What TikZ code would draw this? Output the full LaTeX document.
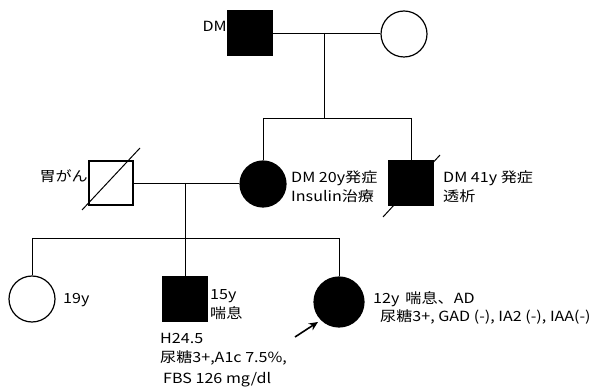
\documentclass[tikz,border=0pt]{standalone}
\usepackage{fontspec}
\setmainfont[FakeStretch=1.15]{Noto Sans CJK JP}
\usetikzlibrary{arrows.meta}
\begin{document}
\begin{tikzpicture}[x=1pt,y=-1pt,
  male/.style={draw, line width=1.2pt, rectangle, minimum size=44pt, inner sep=0pt},
  female/.style={draw, line width=1.2pt, circle, minimum size=46pt, inner sep=0pt},
  aff/.style={fill=black},
  lbl/.style={font=\fontsize{14}{19}\selectfont, inner sep=0pt, align=left, anchor=base west},
  rel/.style={line width=0.8pt},
  slash/.style={line width=1pt}]
\useasboundingbox (0,0) rectangle (597,387);
% generation I
\node[male,aff] (gf) at (250,33) {};
\node[female] (gm) at (404,34) {};
\node[lbl, anchor=base east] (gfl) at (227,32) {DM};
\coordinate (m1) at (324,33);
\coordinate (m1d) at (324,118);
\coordinate (s1l) at (263,118);
\coordinate (s1r) at (411,118);
\draw[rel] (gf.east |- m1) -- (gm.west |- m1);
\draw[rel] (m1) -- (m1d);
\draw[rel] (s1l) -- (s1r);
% generation II
\node[male] (fa) at (111,183) {};
\node[female,aff] (mo) at (263,184) {};
\node[male,aff] (un) at (411,183) {};
\draw[slash] (82,210) -- (140,148);
\draw[slash] (383,217) -- (440,155);
\draw[rel] (s1l) -- (mo.north);
\draw[rel] (s1r) -- (un.north);
\node[lbl, anchor=base east] (fal) at (88,182) {胃がん};
\node[lbl] (mol) at (291,202) {DM 20y発症\\Insulin治療};
\node[lbl] (unl) at (443,202) {DM 41y 発症\\透析};
\coordinate (m2) at (185,183);
\coordinate (m2d) at (185,238);
\coordinate (s2l) at (32,238);
\coordinate (s2r) at (339,238);
\draw[rel] (fa.east) -- (mo.west |- fa.east);
\draw[rel] (m2) -- (m2d);
\draw[rel] (s2l) -- (s2r);
% generation III
\node[female] (d1) at (32,299) {};
\node[male,aff] (s1) at (185,299) {};
\node[female,aff,minimum size=50pt] (pr) at (339,302) {};
\draw[rel] (s2l) -- (d1.north);
\draw[rel] (m2d) -- (s1.north);
\draw[rel] (s2r) -- (pr.north);
\node[lbl] (d1l) at (63,304) {19y};
\node[lbl] (s1l1) at (210,319) {15y\\喘息};
\node[lbl, font=\fontsize{14}{20}\selectfont] (s1l2) at (160,383) {H24.5\\尿糖3+,A1c 7.5\%,\\\hspace{3pt}FBS 126 mg/dl};
\node[lbl, font=\fontsize{14}{18.5}\selectfont] (prl) at (373,322) {12y\hspace{6pt}喘息、AD\\\hspace{7pt}尿糖3+, GAD (-), IA2 (-), IAA(-)};
\coordinate (arr) at (295,337);
\draw[-{Stealth[length=9pt,width=8pt]}, line width=1.6pt] (arr) -- (318,322);
\end{tikzpicture}
\end{document}
